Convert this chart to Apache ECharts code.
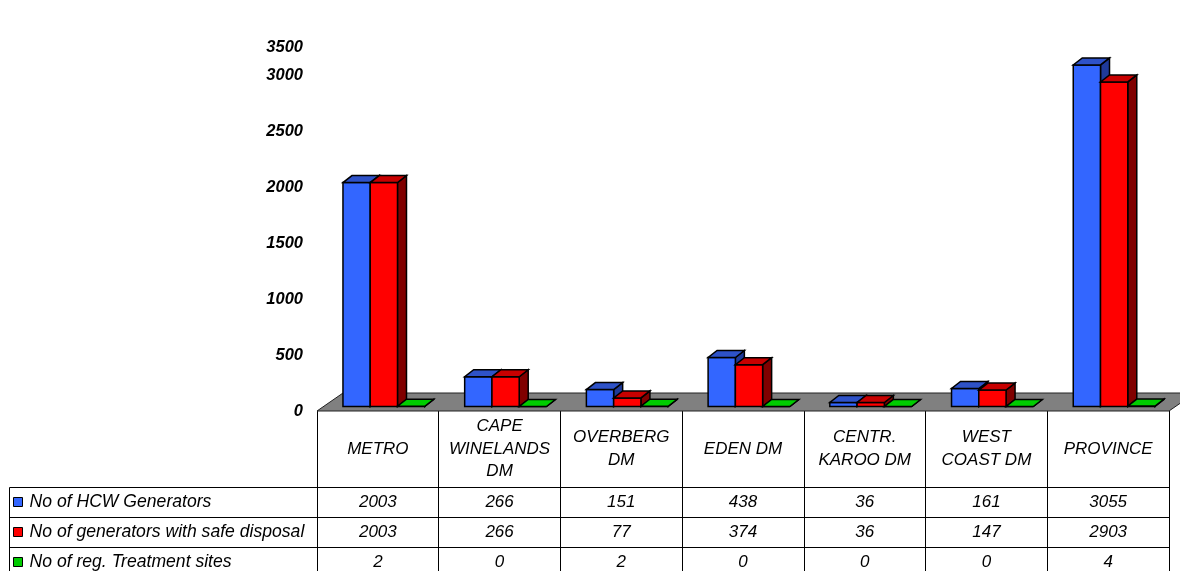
<!DOCTYPE html>
<html>
<head>
<meta charset="utf-8">
<script src="https://cdn.jsdelivr.net/npm/echarts@6/dist/echarts.min.js"></script>
<style>
  html, body { margin: 0; padding: 0; background: #fff; }
  #chart { width: 1180px; height: 571px; }
</style>
</head>
<body>
<div id="chart"></div>
<script>
// Health-care waste generators per district
const categories = ['METRO', 'CAPE\nWINELANDS\nDM', 'OVERBERG\nDM', 'EDEN DM', 'CENTR.\nKAROO DM', 'WEST\nCOAST DM', 'PROVINCE'];
const seriesNames = ['No of HCW Generators', 'No of generators with safe disposal', 'No of reg. Treatment sites'];
const hcwGenerators = [2003, 266, 151, 438, 36, 161, 3055];
const safeDisposal = [2003, 266, 77, 374, 36, 147, 2903];
const treatmentSites = [2, 0, 2, 0, 0, 0, 4];
// value-axis labels; the last one sits at the top of the axis
const yTickLabels = ['0', '500', '1000', '1500', '2000', '2500', '3000', '3500'];

const seriesValues = [hcwGenerators, safeDisposal, treatmentSites];

// front / top / side shades for each series
const palettes = [
  { front: '#3366FF', top: '#2E52C8', side: '#1F3A99' },
  { front: '#FF0000', top: '#C80000', side: '#800000' },
  { front: '#00CC00', top: '#00CC00', side: '#008000' }
];

// 3D look: bar depth and where the bar plane sits on the floor
const DEPTH = [9, -7];
const PLANE = [6, -4.5];
const FLOOR_DEPTH = [26, -18];
const BAR_FRAC = 0.224;

const chart = echarts.init(document.getElementById('chart'), null, { renderer: 'canvas' });

function barRenderer(sIdx, pal) {
  return function (params, api) {
    const i = api.value(0);
    const v = api.value(1);
    const base = api.coord([i, 0]);
    const top = api.coord([i, v]);
    const band = api.size([1, 0])[0];
    const w = band * BAR_FRAC;
    const x0 = base[0] - band / 2 + PLANE[0] + (band - 3 * w) / 2 + sIdx * w;
    const x1 = x0 + w;
    const yb = base[1] + PLANE[1];
    const yt = top[1] + PLANE[1];
    const [dx, dy] = DEPTH;
    const stroke = { stroke: '#000', lineWidth: 1.5, lineJoin: 'miter' };
    return {
      type: 'group',
      children: [
        { type: 'polygon', shape: { points: [[x1, yt], [x1 + dx, yt + dy], [x1 + dx, yb + dy], [x1, yb]] },
          style: Object.assign({ fill: pal.side }, stroke) },
        { type: 'rect', shape: { x: x0, y: yt, width: w, height: yb - yt },
          style: Object.assign({ fill: pal.front }, stroke) },
        { type: 'polygon', shape: { points: [[x0, yt], [x1, yt], [x1 + dx, yt + dy], [x0 + dx, yt + dy]] },
          style: Object.assign({ fill: pal.top }, stroke) }
      ]
    };
  };
}

function floorRenderer(params) {
  const c = params.coordSys;
  const yF = c.y + c.height;
  const [dx, dy] = FLOOR_DEPTH;
  return {
    type: 'polygon',
    shape: { points: [[c.x, yF], [c.x + c.width, yF], [c.x + c.width + dx, yF + dy], [c.x + dx, yF + dy]] },
    style: { fill: '#808080', stroke: '#222', lineWidth: 1 }
  };
}

const tableFont = { fontSize: 17, fontStyle: 'italic', fontFamily: 'Liberation Sans, Arial, sans-serif', color: '#000' };
const rowTops = [487, 517, 547];
const rowOffsets = [76, 106, 136];

const xAxes = [{
  type: 'category',
  gridIndex: 0,
  data: categories,
  position: 'bottom',
  axisLine: { show: false },
  axisTick: { show: true, alignWithLabel: false, length: 160, lineStyle: { color: '#000', width: 1 } },
  axisLabel: Object.assign({ interval: 0, margin: 38, lineHeight: 22.5, verticalAlign: 'middle', align: 'center' }, tableFont),
  splitLine: { show: false }
}];
seriesValues.forEach(function (vals, k) {
  xAxes.push({
    type: 'category',
    gridIndex: 0,
    data: categories,
    position: 'bottom',
    offset: rowOffsets[k],
    axisLine: { show: true, lineStyle: { color: '#000', width: 1 } },
    axisTick: { show: false },
    axisLabel: Object.assign({
      interval: 0, margin: 15, verticalAlign: 'middle', align: 'center',
      formatter: function (value, idx) { return String(vals[idx]); }
    }, tableFont),
    splitLine: { show: false }
  });
});

const series = [{
  type: 'custom',
  name: 'floor',
  xAxisIndex: 0,
  yAxisIndex: 0,
  renderItem: floorRenderer,
  data: [[0, 0]],
  silent: true,
  z: 1
}];
seriesValues.forEach(function (vals, k) {
  series.push({
    type: 'custom',
    name: seriesNames[k],
    xAxisIndex: 0,
    yAxisIndex: 0,
    itemStyle: { color: palettes[k].front },
    renderItem: barRenderer(k, palettes[k]),
    data: vals.map(function (v, i) { return [i, v]; }),
    z: 2 + k
  });
});

// one legend entry per table row
const legends = seriesNames.map(function (name, k) {
  return {
    data: [name],
    orient: 'vertical',
    left: 13,
    top: rowTops[k],
    padding: 0,
    itemGap: 0,
    itemWidth: 9,
    itemHeight: 9,
    icon: 'rect',
    selectedMode: false,
    itemStyle: { borderColor: '#000', borderWidth: 1 },
    textStyle: Object.assign({}, tableFont, { fontSize: 17.6, lineHeight: 30, padding: [0, 0, 0, 2] })
  };
});

const option = {
  animation: false,
  backgroundColor: '#fff',
  grid: { left: 317, right: 11, top: 47.65, bottom: 160, containLabel: false },
  xAxis: xAxes,
  yAxis: {
    type: 'value',
    gridIndex: 0,
    min: 0,
    max: 3250,
    interval: 500,
    axisLine: { show: false },
    axisTick: { show: false },
    splitLine: { show: false },
    axisLabel: {
      margin: 14,
      fontSize: 16.5,
      fontWeight: 'bold',
      fontStyle: 'italic',
      fontFamily: 'Liberation Sans, Arial, sans-serif',
      color: '#000',
      formatter: function (value, idx) { return yTickLabels[idx]; }
    }
  },
  legend: legends,
  graphic: [
    { type: 'polyline', shape: { points: [[317, 487.5], [9.5, 487.5], [9.5, 571]] }, style: { stroke: '#000', lineWidth: 1, fill: null } },
    { type: 'line', shape: { x1: 9.5, y1: 517.5, x2: 317, y2: 517.5 }, style: { stroke: '#000', lineWidth: 1 } },
    { type: 'line', shape: { x1: 9.5, y1: 547.5, x2: 317, y2: 547.5 }, style: { stroke: '#000', lineWidth: 1 } }
  ],
  series: series
};

chart.setOption(option);
</script>
</body>
</html>
